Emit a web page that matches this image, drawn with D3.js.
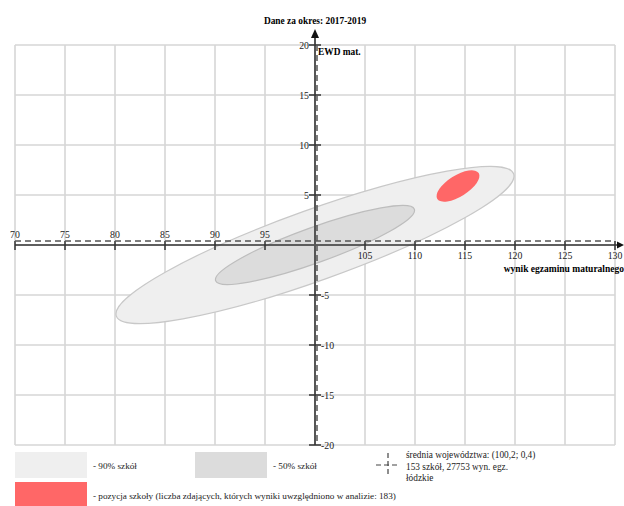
<!DOCTYPE html>
<html>
<head>
<meta charset="utf-8">
<script src="https://cdn.jsdelivr.net/npm/d3@7"></script>
<style>
  html, body { margin: 0; padding: 0; background: #fff; }
</style>
</head>
<body>
<svg id="chart" width="624" height="506"></svg>
<script>
// ---- data ----
const title = "Dane za okres: 2017-2019";
const xLabel = "wynik egzaminu maturalnego";
const yLabel = "EWD mat.";
const xTicks = [70, 75, 80, 85, 90, 95, 100, 105, 110, 115, 120, 125, 130];
const yTicks = [-20, -15, -10, -5, 0, 5, 10, 15, 20];
const xDomain = [70, 130];
const yDomain = [-20, 20];
const ellipseNames = ["90% szkół", "50% szkół", "pozycja szkoły"];
const ellipseCX = [100.0, 100.0, 114.3];
const ellipseCY = [0.0, 0.0, 5.9];
const ellipseRA = [21.1, 10.56, 2.44];   // semi-major, data units
const ellipseRB = [3.54, 1.77, 1.05];    // semi-minor, data units
const ellipseAngle = [19.7, 19.8, 32];   // degrees, counter-clockwise
const meanX = 100.2;
const meanY = 0.4;
const legendTexts = ["- 90% szkół", "- 50% szkół",
  "- pozycja szkoły (liczba zdających, których wyniki uwzględniono w analizie: 183)"];
const meanTexts = ["średnia województwa: (100,2; 0,4)", "153 szkół, 27753 wyn. egz.", "łódzkie"];

// ---- styles ----
const FONT = "Times New Roman, Liberation Serif, Times, Tinos, Noto Serif, DejaVu Serif, FreeSerif, Liberation Sans, serif";
const fills = ["#efefef", "#dcdcdc", "#ff5f5f"];
const strokes = ["#c8c8c8", "#bdbdbd", "none"];
const fillOpacity = [1, 1, 0.95];

const svg = d3.select("#chart").attr("font-family", FONT);
const x = d3.scaleLinear().domain(xDomain).range([15, 615]);
const y = d3.scaleLinear().domain(yDomain).range([445, 45]);

// grid
const grid = svg.append("g");
grid.selectAll("line.v").data(xTicks).join("line")
  .attr("x1", d => x(d)).attr("x2", d => x(d))
  .attr("y1", y(yDomain[1])).attr("y2", y(yDomain[0]))
  .attr("stroke", "#dedede").attr("stroke-width", 2);
grid.selectAll("line.h").data(yTicks).join("line")
  .attr("x1", x(xDomain[0])).attr("x2", x(xDomain[1]))
  .attr("y1", d => y(d)).attr("y2", d => y(d))
  .attr("stroke", "#d6d6d6").attr("stroke-width", 1.5);

// ellipses
const kx = x(1) - x(0), ky = y(0) - y(1);
ellipseNames.forEach((n, i) => {
  svg.append("ellipse")
    .attr("cx", 0).attr("cy", 0)
    .attr("rx", ellipseRA[i] * kx).attr("ry", ellipseRB[i] * ky)
    .attr("transform", `translate(${x(ellipseCX[i])},${y(ellipseCY[i])}) rotate(${-ellipseAngle[i]})`)
    .attr("fill", fills[i]).attr("fill-opacity", fillOpacity[i])
    .attr("stroke", strokes[i]).attr("stroke-width", 1.2);
});

// axes (solid)
const axisColor = "#333";
svg.append("line").attr("x1", x(xDomain[0])).attr("x2", 620)
  .attr("y1", y(0)).attr("y2", y(0)).attr("stroke", axisColor).attr("stroke-width", 1.5);
svg.append("path").attr("d", `M624,${y(0)} L617,${y(0)-3.5} L617,${y(0)+3.5} Z`).attr("fill", "#111");
svg.append("line").attr("x1", x(100)).attr("x2", x(100))
  .attr("y1", y(yDomain[0])).attr("y2", 36).attr("stroke", "#555").attr("stroke-width", 2);
svg.append("path").attr("d", `M${x(100)},29 L${x(100)-4},38 L${x(100)+4},38 Z`).attr("fill", "#111");

// ticks
svg.selectAll("line.xt").data(xTicks.filter(d => d !== 100)).join("line")
  .attr("x1", d => x(d)).attr("x2", d => x(d))
  .attr("y1", y(0) - 4).attr("y2", y(0) + 5)
  .attr("stroke", axisColor).attr("stroke-width", 1.5);
svg.selectAll("line.yt").data(yTicks.filter(d => d !== 0)).join("line")
  .attr("x1", x(100) - 6).attr("x2", x(100) + 6)
  .attr("y1", d => y(d)).attr("y2", d => y(d))
  .attr("stroke", axisColor).attr("stroke-width", 1.5);

// dashed mean lines
svg.append("line").attr("x1", x(xDomain[0])).attr("x2", x(xDomain[1]))
  .attr("y1", y(meanY)).attr("y2", y(meanY))
  .attr("stroke", "#555").attr("stroke-width", 1.5).attr("stroke-dasharray", "6,4");
svg.append("line").attr("x1", x(meanX)).attr("x2", x(meanX))
  .attr("y1", y(yDomain[1])).attr("y2", y(yDomain[0]))
  .attr("stroke", "#555").attr("stroke-width", 1.5).attr("stroke-dasharray", "6,4");

// tick labels
const fs = 9.8;
svg.selectAll("text.xl").data(xTicks.filter(d => d !== 100)).join("text")
  .attr("font-family", FONT)
  .attr("x", d => x(d)).attr("y", d => d < 100 ? y(0) - 7 : y(0) + 14)
  .attr("text-anchor", "middle").attr("font-size", fs).attr("fill", "#222")
  .text(d => d);
svg.selectAll("text.yl").data(yTicks.filter(d => d !== 0)).join("text")
  .attr("font-family", FONT)
  .attr("x", d => d > 0 ? x(100) - 6 : x(100) + 6)
  .attr("y", d => y(d) + 4)
  .attr("text-anchor", d => d > 0 ? "end" : "start")
  .attr("font-size", fs).attr("fill", "#222")
  .text(d => d);

// titles
svg.append("text").attr("font-family", FONT).attr("x", x(100)).attr("y", 24).attr("text-anchor", "middle")
  .attr("font-size", 9.4).attr("font-weight", "bold").text(title);
svg.append("text").attr("font-family", FONT).attr("x", x(100) + 3).attr("y", 55)
  .attr("font-size", 9.4).attr("font-weight", "bold").text(yLabel);
svg.append("text").attr("font-family", FONT).attr("x", 624).attr("y", 272).attr("text-anchor", "end")
  .attr("font-size", 9.5).attr("font-weight", "bold").text(xLabel);

// legend
const lg = svg.append("g");
const boxX = [15, 195, 15], boxY = [452, 452, 482];
const txtX = [93, 273, 93], txtY = [469, 469, 499];
ellipseNames.forEach((n, i) => {
  lg.append("rect").attr("x", boxX[i]).attr("y", boxY[i]).attr("width", 72).attr("height", 26)
    .attr("fill", fills[i]).attr("fill-opacity", fillOpacity[i]);
  lg.append("text").attr("font-family", FONT).attr("x", txtX[i]).attr("y", txtY[i]).attr("font-size", 9.2)
    .attr("fill", "#222").text(legendTexts[i]);
});
// mean symbol
const mx = 388, my = 465;
lg.append("line").attr("x1", mx - 12).attr("x2", mx + 12).attr("y1", my).attr("y2", my)
  .attr("stroke", "#444").attr("stroke-width", 1.2).attr("stroke-dasharray", "5,3");
lg.append("line").attr("x1", mx).attr("x2", mx).attr("y1", my - 12).attr("y2", my + 12)
  .attr("stroke", "#444").attr("stroke-width", 1.2).attr("stroke-dasharray", "5,3");
meanTexts.forEach((t, i) => {
  lg.append("text").attr("font-family", FONT).attr("x", 406).attr("y", 458 + i * 11.5).attr("font-size", 9.3)
    .attr("fill", "#222").text(t);
});
</script>
</body>
</html>
